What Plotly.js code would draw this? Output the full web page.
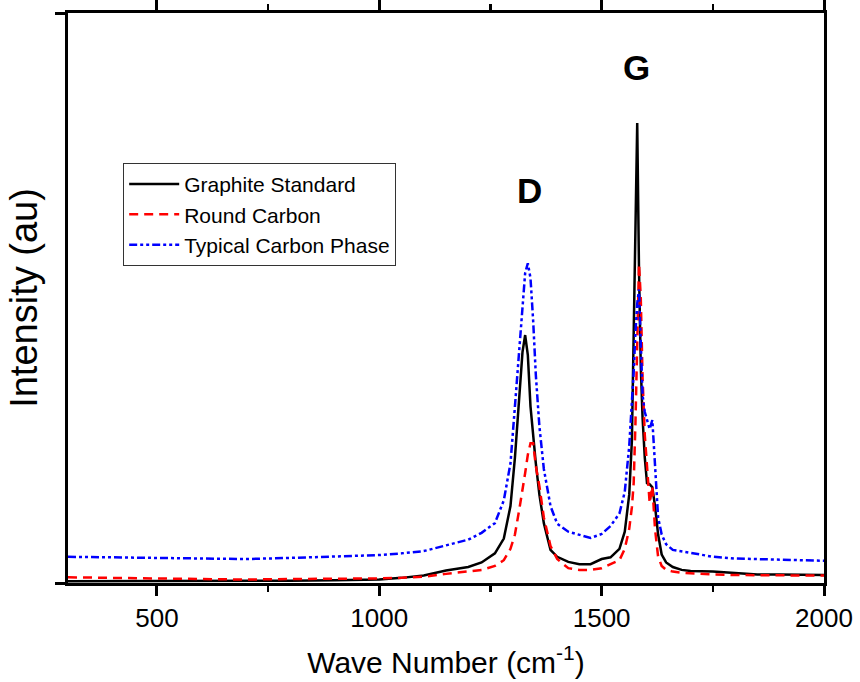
<!DOCTYPE html>
<html>
<head>
<meta charset="utf-8">
<script src="https://cdn.plot.ly/plotly-3.0.1.min.js"></script>
<style>html,body{margin:0;padding:0;background:#fff;}#chart{width:860px;height:682px;}</style>
</head>
<body>
<div id="chart"></div>
<script>
// Wave number (cm-1) sampling
const waveNumber = [300, 400, 500, 600, 700, 800, 900, 1000, 1050, 1100, 1150, 1200, 1230, 1260, 1280, 1295, 1305, 1315, 1322, 1328, 1334, 1340, 1346, 1352, 1360, 1370, 1385, 1400, 1425, 1450, 1475, 1500, 1520, 1540, 1552, 1562, 1568, 1572, 1576, 1580, 1584, 1588, 1592, 1597, 1602, 1608, 1614, 1620, 1627, 1635, 1645, 1660, 1680, 1700, 1750, 1800, 1850, 1900, 1950, 2000];

// Intensity (au), y axis 0..100
const graphiteStandard = [0.3, 0.3, 0.3, 0.3, 0.3, 0.4, 0.5, 0.6, 0.9, 1.3, 2.2, 2.8, 3.6, 5.2, 7.8, 13.5, 22, 33, 40.5, 43.5, 40, 31, 25.5, 21, 15.5, 10.5, 5.8, 4.6, 3.7, 3.3, 3.3, 4.2, 4.5, 6.0, 9.0, 15.5, 25, 42, 65, 80.7, 55, 38, 29, 22, 17.5, 17.3, 16.8, 13.5, 8.5, 5.0, 3.6, 2.8, 2.3, 2.1, 2.0, 1.7, 1.5, 1.5, 1.4, 1.4];

const roundCarbon = [1.0, 0.9, 0.7, 0.6, 0.6, 0.7, 0.7, 0.8, 0.9, 1.1, 1.6, 2.0, 2.3, 3.0, 4.0, 6.0, 8.5, 13, 16, 19.3, 22.5, 24.5, 24.5, 20.5, 17, 11.5, 6.5, 4.2, 2.6, 2.3, 2.3, 2.6, 3.3, 4.0, 6.0, 9.5, 13.3, 17.5, 28, 40, 56, 50, 36, 26, 20, 14, 17, 9.5, 4.6, 3.0, 2.3, 2.0, 1.8, 1.7, 1.5, 1.4, 1.4, 1.3, 1.3, 1.3];

const typicalCarbonPhase = [4.6, 4.5, 4.4, 4.3, 4.2, 4.4, 4.6, 4.9, 5.2, 5.6, 6.6, 7.6, 8.8, 10.5, 14.5, 21, 31, 41.5, 49, 54.4, 56.1, 53.5, 46, 36.5, 27.5, 20, 13.5, 10.4, 9.0, 8.4, 7.9, 8.6, 10, 12.2, 16, 24, 31, 37, 44, 49, 51.5, 40, 33, 30, 28.6, 27, 28.6, 21, 11.5, 8.5, 6.8, 5.8, 5.5, 5.3, 4.6, 4.3, 4.2, 4.1, 4.0, 3.9];

const seriesNames = ['Graphite Standard', 'Round Carbon', 'Typical Carbon Phase'];
const peakLabels = ['D', 'G'];
const peakLabelX = [1337, 1579];
const peakLabelY = [68.9, 90.4];
const xTickVals = [500, 1000, 1500, 2000];
const xMinorTickVals = [750, 1250, 1750];

const traces = [
  {x: waveNumber, y: graphiteStandard, name: seriesNames[0], mode: 'lines',
   line: {color: '#000000', width: 2.5}},
  {x: waveNumber, y: roundCarbon, name: seriesNames[1], mode: 'lines',
   line: {color: '#ff0000', width: 2.5, dash: '9px,6px'}},
  {x: waveNumber, y: typicalCarbonPhase, name: seriesNames[2], mode: 'lines',
   line: {color: '#0000ff', width: 2.5, dash: '8px,3px,3px,3px,3px,3px'}}
];

const baseFont = 'Liberation Sans, Arial, sans-serif';

const layout = {
  width: 860, height: 682,
  margin: {l: 68, r: 36, t: 13, b: 99},
  paper_bgcolor: '#ffffff', plot_bgcolor: '#ffffff',
  font: {family: baseFont, color: '#000'},
  showlegend: true,
  legend: {x: 0.073, y: 0.737, xanchor: 'left', yanchor: 'top',
    bgcolor: '#ffffff', bordercolor: '#333', borderwidth: 1, itemwidth: 50,
    font: {family: baseFont, size: 21, color: '#000'}},
  xaxis: {range: [300, 2000], tickvals: xTickVals, ticktext: xTickVals.map(String),
    showline: true, linewidth: 3, linecolor: '#000', mirror: 'ticks',
    ticks: 'outside', ticklen: 10, tickwidth: 3, tickcolor: '#000',
    minor: {tickvals: xMinorTickVals, ticks: 'outside', ticklen: 6, tickwidth: 2.5, tickcolor: '#000'},
    showgrid: false, zeroline: false,
    tickfont: {family: baseFont, size: 26, color: '#000'},
    title: {text: 'Wave Number (cm<sup>-1</sup>)', font: {family: baseFont, size: 30, color: '#000'}, standoff: 20}},
  yaxis: {range: [0, 100], tickvals: [0, 100], showticklabels: false,
    showline: true, linewidth: 3, linecolor: '#000', mirror: true,
    ticks: 'outside', ticklen: 10, tickwidth: 3, tickcolor: '#000',
    showgrid: false, zeroline: false,
    title: {text: 'Intensity (au)', font: {family: baseFont, size: 38, color: '#000'}, standoff: 6}},
  annotations: peakLabels.map((t, i) => ({x: peakLabelX[i], y: peakLabelY[i], xref: 'x', yref: 'y',
    text: '<b>' + t + '</b>', showarrow: false, font: {family: baseFont, size: 35, color: '#000'}}))
};

Plotly.newPlot('chart', traces, layout, {displayModeBar: false, staticPlot: true});
</script>
</body>
</html>
